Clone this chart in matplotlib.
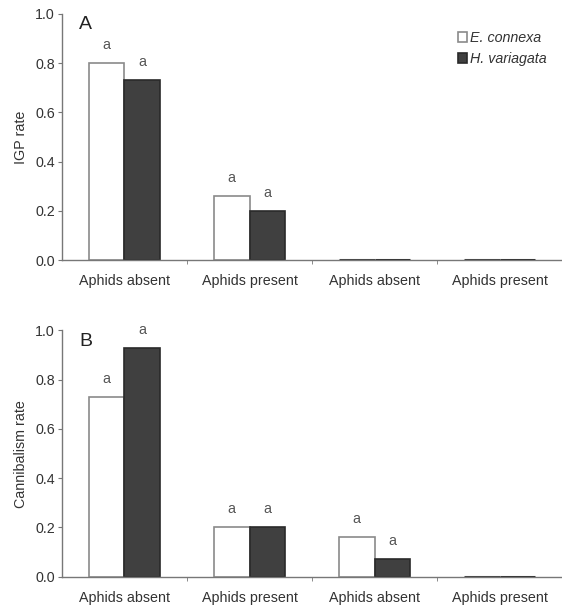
import matplotlib.pyplot as plt
from matplotlib.ticker import FormatStrFormatter, FixedLocator

plt.rcParams['font.family'] = ['Liberation Sans', 'DejaVu Sans']

categories = ["Aphids absent", "Aphids present", "Aphids absent", "Aphids present"]
species = ["E. connexa", "H. variagata"]

# panel A: IGP rate
igp_connexa = [0.80, 0.26, 0.0, 0.0]
igp_variagata = [0.73, 0.20, 0.0, 0.0]
igp_letters_c = ["a", "a", "", ""]
igp_letters_v = ["a", "a", "", ""]

# panel B: cannibalism rate
can_connexa = [0.73, 0.20, 0.16, 0.0]
can_variagata = [0.93, 0.20, 0.07, 0.0]
can_letters_c = ["a", "a", "a", ""]
can_letters_v = ["a", "a", "a", ""]

txt = "#333333"
dark = "#404040"
w = 0.285
fs = 10.3

fig = plt.figure(figsize=(5.62, 6.08), dpi=100)
axA = fig.add_axes([0.110, 0.572, 0.895, 0.405])
axB = fig.add_axes([0.110, 0.0515, 0.895, 0.405])


def draw(ax, c_vals, v_vals, c_let, v_let, ylabel, panel, legend):
    x = range(len(categories))
    xc = [i - w / 2 for i in x]
    xv = [i + w / 2 for i in x]
    ec = ["#8a8a8a" if v > 0 else dark for v in c_vals]
    lw_c = [1.2 if v > 0 else 2.2 for v in c_vals]
    lw_v = [1.2 if v > 0 else 2.2 for v in v_vals]
    ax.bar(xc, c_vals, w, color="white", edgecolor=ec, linewidth=lw_c,
           label=species[0])
    ax.bar(xv, v_vals, w, color=dark, edgecolor="#2a2a2a", linewidth=lw_v,
           label=species[1])
    for xi, v, l in zip(xc, c_vals, c_let):
        if l:
            ax.annotate(l, (xi, v), xytext=(0, 8), textcoords="offset points",
                        ha="center", va="bottom", fontsize=fs, color="#555555")
    for xi, v, l in zip(xv, v_vals, v_let):
        if l:
            ax.annotate(l, (xi, v), xytext=(0, 8), textcoords="offset points",
                        ha="center", va="bottom", fontsize=fs, color="#555555")
    ax.set_xlim(-0.5, 3.52)
    ax.set_ylim(0, 1.0)
    ax.set_yticks([0.0, 0.2, 0.4, 0.6, 0.8, 1.0])
    ax.yaxis.set_major_formatter(FormatStrFormatter("%.1f"))
    ax.set_xticks(list(x))
    ax.set_xticklabels(categories)
    ax.xaxis.set_minor_locator(FixedLocator([0.5, 1.5, 2.5]))
    ax.tick_params(axis="x", which="major", length=0, pad=10, labelsize=fs,
                   labelcolor=txt)
    ax.tick_params(axis="x", which="minor", length=3, color="#777777", direction="out")
    ax.tick_params(axis="y", length=3, color="#777777", labelsize=fs,
                   labelcolor=txt, pad=2)
    for s in ["top", "right"]:
        ax.spines[s].set_visible(False)
    for s in ["left", "bottom"]:
        ax.spines[s].set_color("#777777")
        ax.spines[s].set_linewidth(1.0)
    ax.set_ylabel(ylabel, fontsize=fs, color=txt, labelpad=5)
    ax.text(0.035, 0.99, panel, transform=ax.transAxes, fontsize=14,
            color="#222222", ha="left", va="top")
    if legend:
        leg = ax.legend(loc="upper right", bbox_to_anchor=(0.99, 0.985), frameon=False,
                        handlelength=0.6, handleheight=0.7, handletextpad=0.25,
                        labelspacing=0.55, prop={"style": "italic", "size": fs})
        for t in leg.get_texts():
            t.set_color(txt)


draw(axA, igp_connexa, igp_variagata, igp_letters_c, igp_letters_v, "IGP rate", "A", True)
draw(axB, can_connexa, can_variagata, can_letters_c, can_letters_v, "Cannibalism rate", "B", False)

fig.savefig("out.png", dpi=100)
